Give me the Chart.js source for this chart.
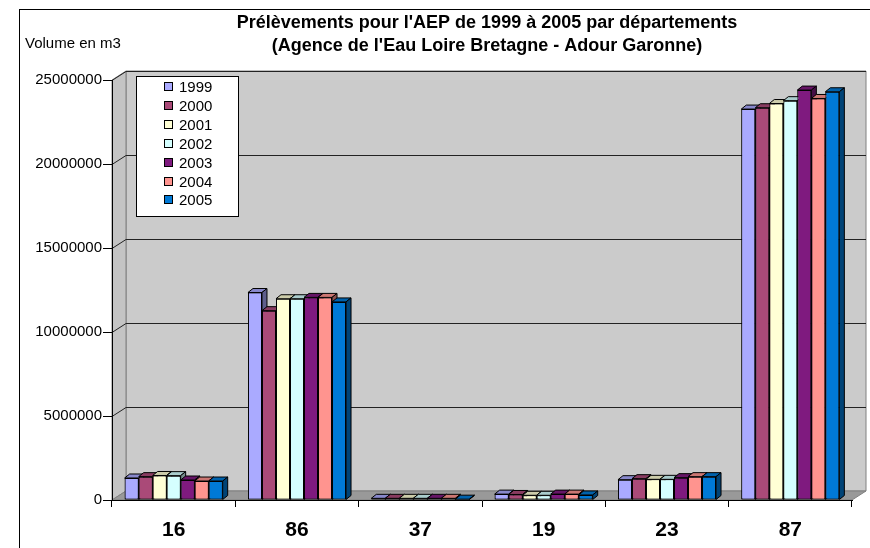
<!DOCTYPE html>
<html>
<head>
<meta charset="utf-8">
<script src="https://cdn.jsdelivr.net/npm/chart.js@4.4.0/dist/chart.umd.min.js"></script>
<style>
    body { margin: 0; background: #fff; }
</style>
</head>
<body>
<canvas id="myChart" width="870" height="548"></canvas>
<script>
//Données
const departements = ['16', '86', '37', '19', '23', '87']
const annees = ['1999', '2000', '2001', '2002', '2003', '2004', '2005']
const v1999 = [1310000, 12350000, 100000, 350000, 1210000, 23270000]
const v2000 = [1390000, 11270000, 100000, 330000, 1270000, 23350000]
const v2001 = [1460000, 11980000, 100000, 280000, 1230000, 23600000]
const v2002 = [1450000, 11980000, 100000, 280000, 1230000, 23770000]
const v2003 = [1190000, 12060000, 100000, 350000, 1330000, 24400000]
const v2004 = [1130000, 12060000, 100000, 350000, 1390000, 23900000]
const v2005 = [1130000, 11790000, 50000, 300000, 1390000, 24300000]
const couleurs = ['#AAAAFF', '#AA4A78', '#FFFFD5', '#D5FFFF', '#7F1A7F', '#FF948F', '#0079D6']
const titre = ["Prélèvements pour l'AEP de 1999 à 2005 par départements", "(Agence de l'Eau Loire Bretagne - Adour Garonne)"]
const uniteY = 'Volume en m3'

const police = "'Liberation Sans', Arial, sans-serif"
const series = [v1999, v2000, v2001, v2002, v2003, v2004, v2005]

// profondeur des murs et des barres
const PX = 14, PY = -9
const BX = 5, BY = -4

function teinte(hex, f) {
    let r = parseInt(hex.substr(1, 2), 16), g = parseInt(hex.substr(3, 2), 16), b = parseInt(hex.substr(5, 2), 16)
    return 'rgb(' + Math.round(r * f) + ',' + Math.round(g * f) + ',' + Math.round(b * f) + ')'
}

function poly(ctx, pts, fill) {
    ctx.beginPath()
    ctx.moveTo(pts[0][0], pts[0][1])
    for (let i = 1; i < pts.length; i++) ctx.lineTo(pts[i][0], pts[i][1])
    ctx.closePath()
    ctx.fillStyle = fill
    ctx.fill()
    ctx.stroke()
}

const relief = {
    id: 'relief',
    beforeDraw(chart) {
        const ctx = chart.ctx
        const { left, right, top, bottom } = chart.chartArea
        const y = chart.scales.y
        ctx.save()
        ctx.lineWidth = 1
        // cadre
        ctx.strokeStyle = '#000'
        ctx.strokeRect(19.5, 9.5, 900, 600)
        // murs
        ctx.strokeStyle = '#808080'
        poly(ctx, [[left + PX, top + PY], [right + PX, top + PY], [right + PX, bottom + PY], [left + PX, bottom + PY]], '#CBCBCB')
        poly(ctx, [[left, top], [left + PX, top + PY], [left + PX, bottom + PY], [left, bottom]], '#C4C4C4')
        poly(ctx, [[left, bottom], [left + PX, bottom + PY], [right + PX, bottom + PY], [right, bottom]], '#999999')
        // quadrillage
        ctx.strokeStyle = '#222'
        y.ticks.forEach(t => {
            const py = Math.round(y.getPixelForValue(t.value)) + 0.5
            if (t.value == 0) return
            ctx.beginPath()
            ctx.moveTo(left, py)
            ctx.lineTo(left + PX, py + PY)
            ctx.lineTo(right + PX, py + PY)
            ctx.stroke()
        })
        ctx.restore()
    },
    afterDatasetsDraw(chart) {
        const ctx = chart.ctx
        ctx.save()
        ctx.lineWidth = 1
        ctx.strokeStyle = '#000'
        chart.data.datasets.forEach((ds, i) => {
            chart.getDatasetMeta(i).data.forEach(bar => {
                const { x, y, base, width } = bar.getProps(['x', 'y', 'base', 'width'], true)
                const l = x - width / 2, r = x + width / 2
                bar.draw(ctx)
                poly(ctx, [[l, y], [l + BX, y + BY], [r + BX, y + BY], [r, y]], teinte(ds.backgroundColor, 0.8))
                poly(ctx, [[r, y], [r + BX, y + BY], [r + BX, base + BY], [r, base]], teinte(ds.backgroundColor, 0.55))
            })
        })
        ctx.restore()
    },
    afterDraw(chart) {
        const ctx = chart.ctx
        ctx.save()
        ctx.fillStyle = '#000'
        ctx.textBaseline = 'middle'
        // titre
        ctx.font = 'bold 18px ' + police
        ctx.textAlign = 'center'
        ctx.fillText(titre[0], 487, 23)
        ctx.fillText(titre[1], 487, 46)
        // unité
        ctx.font = '15px ' + police
        ctx.textAlign = 'left'
        ctx.fillText(uniteY, 25, 44)
        // légende
        ctx.lineWidth = 1
        ctx.strokeStyle = '#000'
        ctx.fillStyle = '#fff'
        ctx.fillRect(136.5, 76.5, 102, 140)
        ctx.strokeRect(136.5, 76.5, 102, 140)
        chart.data.datasets.forEach((ds, i) => {
            const cy = Math.round(87 + i * 18.9)
            ctx.fillStyle = ds.backgroundColor
            ctx.fillRect(164.5, cy - 4.5, 8, 8)
            ctx.strokeRect(164.5, cy - 4.5, 8, 8)
            ctx.fillStyle = '#000'
            ctx.fillText(ds.label, 179, cy + 1)
        })
        ctx.restore()
    }
}

const ctx = document.getElementById('myChart')
new Chart(ctx, {
    type: 'bar',
    data: {
        labels: departements,
        datasets: annees.map((a, i) => ({
            label: a,
            data: series[i],
            backgroundColor: couleurs[i],
            borderColor: '#000',
            borderWidth: 1,
            borderSkipped: false,
        }))
    },
    options: {
        responsive: false,
        animation: false,
        devicePixelRatio: 1,
        categoryPercentage: 0.795,
        barPercentage: 1,
        layout: { padding: { top: 80, right: 18, left: 0, bottom: 0 } },
        scales: {
            x: {
                grid: { drawOnChartArea: false, color: '#000', tickLength: 7 },
                border: { color: '#000' },
                ticks: { color: '#000', padding: 11, font: { family: police, size: 21, weight: 'bold' } },
                afterFit: s => { s.height = 48 }
            },
            y: {
                min: 0,
                max: 25000000,
                grid: { drawOnChartArea: false, color: '#000', tickLength: 9 },
                border: { color: '#000' },
                ticks: {
                    stepSize: 5000000,
                    color: '#000',
                    padding: 1,
                    font: { family: police, size: 15 },
                    callback: v => String(v)
                },
                afterFit: s => { s.width = 112 }
            }
        },
        plugins: {
            legend: { display: false },
            tooltip: { enabled: false },
            title: { display: false }
        }
    },
    plugins: [relief]
});
</script>
</body>
</html>
